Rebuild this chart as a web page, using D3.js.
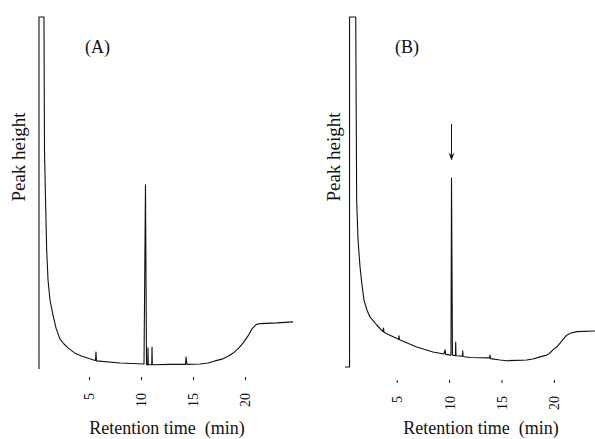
<!DOCTYPE html>
<html>
<head>
<meta charset="utf-8">
<script src="https://cdn.jsdelivr.net/npm/d3@7"></script>
<style>
  body { margin: 0; background: #fff; }
  svg { display: block; }
  text { font-family: "Liberation Serif", "DejaVu Serif", serif; fill: #111; white-space: pre; }
</style>
</head>
<body>
<svg id="chart" width="595" height="439"></svg>
<script>
// chromatogram (A): retention time (min) and peak height (arbitrary units)
var timeA = [0.19, 0.19, 0.67, 0.72, 0.82, 0.93, 1.06, 1.25, 1.54, 1.83, 2.21, 2.60,
    2.98, 3.65, 4.33, 5.38, 5.63, 5.67, 5.72, 7.98, 10.29, 10.43, 10.53, 10.64,
    10.67, 10.70, 11.03, 11.06, 11.09, 12.8, 14.28, 14.33, 14.42, 15.67, 16.44,
    17.12, 17.79, 18.37, 18.94, 19.42, 19.9, 20.29, 20.67, 21.06, 21.44, 23.08,
    24.62];
var heightA = [0, 100, 100, 62.2, 48.0, 33.8, 25.3, 19.6, 15.3, 11.6, 8.5, 7.1,
    6.0, 4.5, 3.6, 2.6, 2.4, 4.8, 2.3, 1.7, 1.4, 52.3, 1.2, 1.2,
    6.0, 1.2, 1.2, 6.25, 1.2, 1.3, 1.3, 3.4, 1.3, 1.4, 1.7,
    2.3, 2.8, 3.6, 4.7, 6.0, 7.7, 9.4, 11.4, 12.6, 12.9, 13.1,
    13.4];

// chromatogram (B)
var timeB = [0.07, 0.5, 0.5, 1.09, 1.18, 1.31, 1.5, 1.69, 1.88, 2.16, 2.45, 3.09,
    3.69, 3.74, 3.79, 4.36, 5.17, 5.22, 5.27, 6.91, 8.46, 9.51, 9.61, 9.68,
    10.18, 10.23, 10.32, 10.60, 10.63, 10.66, 11.27, 11.30, 11.33, 11.99, 13.85,
    13.9, 13.95, 14.86, 15.5, 16.45, 17.4, 18.0, 18.67, 19.31, 19.62, 19.91,
    20.27, 20.74, 21.22, 21.63, 22.18, 23.92];
var heightB = [0, 0, 100, 100, 47.7, 36.3, 28.6, 23.4, 19.1, 16.3, 14.3, 12.0,
    10.1, 11.1, 9.9, 9.1, 7.9, 8.9, 7.8, 5.7, 4.3, 3.7, 4.9, 3.6,
    3.4, 54, 3.4, 3.2, 7.1, 3.2, 3.1, 4.6, 3.0, 2.7, 2.6,
    3.4, 2.4, 2.0, 1.8, 1.9, 2.0, 2.3, 2.9, 3.4, 4.0, 4.9,
    5.7, 7.4, 9.1, 9.7, 10.1, 10.3];

var tickValues = [5, 10, 15, 20];
var panelLabels = ["(A)", "(B)"];
var yTitle = "Peak height";
var xTitle = "Retention time  (min)";
// arrow over the marked peak in (B): time, from height, to height
var arrowB = [10.23, 69.4, 59];

var svg = d3.select("#chart");

var panels = [
    {t: timeA, h: heightA, label: panelLabels[0],
     x: d3.scaleLinear().domain([0, 25]).range([37, 297]),
     y: d3.scaleLinear().domain([0, 100]).range([369, 17]),
     tickY: 377, yTitleX: 18, xTitleX: 167, labelX: 97.5},
    {t: timeB, h: heightB, label: panelLabels[1],
     x: d3.scaleLinear().domain([0, 25]).range([344.3, 606.3]),
     y: d3.scaleLinear().domain([0, 100]).range([367, 17]),
     tickY: 380, yTitleX: 333, xTitleX: 481, labelX: 407}
];

panels.forEach(function(p, k) {
    var g = svg.append("g");
    var pts = p.t.map(function(d, i) { return [d, p.h[i]]; });

    var line = d3.line()
        .x(function(d) { return p.x(d[0]); })
        .y(function(d) { return p.y(d[1]); });

    g.append("path")
        .datum(pts)
        .attr("d", line)
        .attr("fill", "none")
        .attr("stroke", "#111")
        .attr("stroke-width", 1.1)
        .attr("stroke-linejoin", "round");

    // x axis: ticks only, no domain line
    var ax = g.append("g")
        .attr("transform", "translate(0," + p.tickY + ")")
        .call(d3.axisBottom(p.x).tickValues(tickValues).tickSize(3).tickSizeOuter(0));
    ax.select(".domain").remove();
    ax.selectAll("line").attr("stroke", "#111");
    ax.selectAll("text")
        .attr("transform", "rotate(-90)")
        .attr("x", -16)
        .attr("y", 0)
        .attr("dy", "0.35em")
        .style("text-anchor", "end")
        .style("font-family", "Liberation Serif, serif")
        .style("font-size", "14px")
        .style("fill", "#111");

    g.append("text")
        .text(xTitle)
        .attr("x", p.xTitleX)
        .attr("y", 434)
        .style("text-anchor", "middle")
        .style("font-size", "18px");

    g.append("text")
        .text(yTitle)
        .attr("transform", "translate(" + p.yTitleX + ",157) rotate(-90)")
        .attr("dy", "0.35em")
        .style("text-anchor", "middle")
        .style("font-size", "19px");

    g.append("text")
        .text(p.label)
        .attr("x", p.labelX)
        .attr("y", 53)
        .style("text-anchor", "middle")
        .style("font-size", "18px");

    if (k == 1) {
        var ax0 = p.x(arrowB[0]);
        var tip = p.y(arrowB[2]);
        g.append("line")
            .attr("x1", ax0).attr("x2", ax0)
            .attr("y1", p.y(arrowB[1])).attr("y2", tip - 5)
            .attr("stroke", "#111")
            .attr("stroke-width", 1);
        g.append("path")
            .attr("d", "M" + (ax0 - 3) + "," + (tip - 8) +
                " L" + ax0 + "," + tip +
                " L" + (ax0 + 3) + "," + (tip - 8) +
                " L" + ax0 + "," + (tip - 5) + " Z")
            .attr("fill", "#111");
    }
});
</script>
</body>
</html>
